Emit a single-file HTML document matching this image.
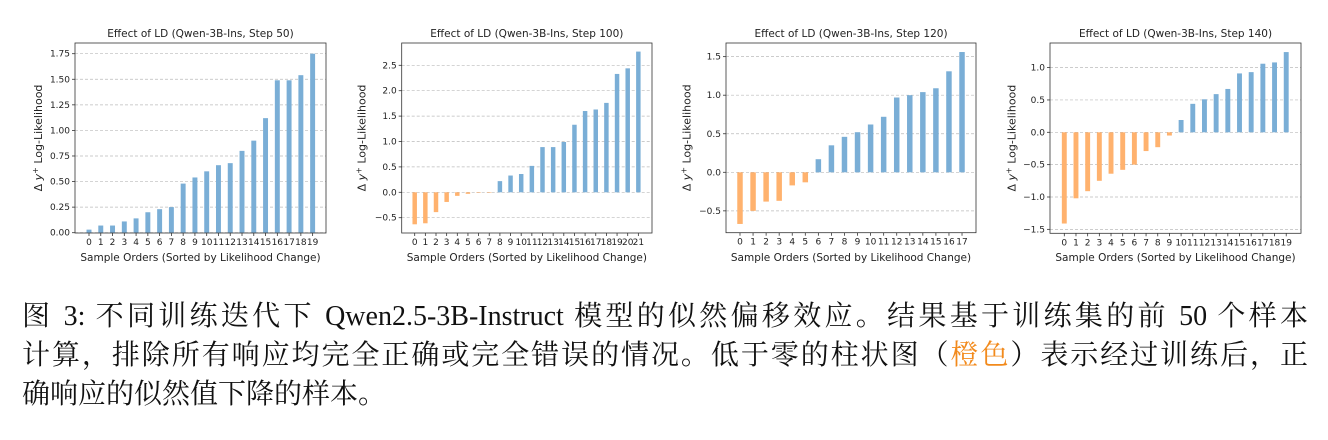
<!DOCTYPE html>
<html><head><meta charset="utf-8"><style>
body{margin:0;width:1328px;height:440px;background:#fff;overflow:hidden;position:relative}
svg{position:absolute;left:0;top:0}
.cap{position:absolute;left:22px;width:1286px;font-family:"Liberation Serif","Noto Serif CJK SC",serif;font-size:28px;line-height:38px;color:#111;white-space:nowrap}
.j{text-align:justify;text-align-last:justify}
</style></head><body>
<svg id="s" width="1328" height="290" xmlns="http://www.w3.org/2000/svg" font-family="DejaVu Sans, sans-serif"></svg>
<div class="cap j" style="top:298px">图 3: 不同训练迭代下 Qwen2.5-3B-Instruct 模型的似然偏移效应。结果基于训练集的前 50 个样本</div>
<div class="cap j" style="top:337px">计算，排除所有响应均完全正确或完全错误的情况。低于零的柱状图（<span style="color:#f28a1c">橙色</span>）表示经过训练后，正</div>
<div class="cap" style="top:376px">确响应的似然值下降的样本。</div>
<script>
const charts=[
{t:"Effect of LD (Qwen-3B-Ins, Step 50)",L:75,R:326,T:43,B:233,z:232.7,u:(232.7-53.7)/1.75,b0:89,sp:11.77,yl:38,
 v:[0.03,0.07,0.07,0.11,0.14,0.20,0.23,0.25,0.48,0.54,0.60,0.66,0.68,0.80,0.90,1.12,1.49,1.49,1.54,1.75],
 ticks:[0,0.25,0.5,0.75,1,1.25,1.5,1.75],fmt:x=>x.toFixed(2)},
{t:"Effect of LD (Qwen-3B-Ins, Step 100)",L:401.7,R:652,T:43,B:233,z:192.3,u:50.8,b0:414.7,sp:10.65,yl:361.7,
 v:[-0.63,-0.61,-0.39,-0.19,-0.07,-0.03,-0.01,-0.01,0.22,0.33,0.36,0.52,0.89,0.89,0.99,1.33,1.60,1.63,1.76,2.33,2.44,2.77],
 ticks:[-0.5,0,0.5,1,1.5,2,2.5],fmt:x=>x.toFixed(1).replace("-","\u2212")},
{t:"Effect of LD (Qwen-3B-Ins, Step 120)",L:726,R:976,T:43,B:232.7,z:172.3,u:77.1,b0:740,sp:13.06,yl:686.7,
 v:[-0.67,-0.50,-0.38,-0.37,-0.17,-0.13,0.17,0.35,0.46,0.52,0.62,0.72,0.97,1.00,1.04,1.09,1.31,1.56],
 ticks:[-0.5,0,0.5,1,1.5],fmt:x=>x.toFixed(1).replace("-","\u2212")},
{t:"Effect of LD (Qwen-3B-Ins, Step 140)",L:1050,R:1301,T:43,B:233.3,z:132.3,u:64.7,b0:1064.3,sp:11.68,yl:1011.7,
 v:[-1.41,-1.02,-0.91,-0.75,-0.64,-0.58,-0.50,-0.29,-0.23,-0.05,0.19,0.44,0.51,0.59,0.67,0.91,0.93,1.06,1.08,1.24],
 ticks:[-1.5,-1,-0.5,0,0.5,1],fmt:x=>x.toFixed(1).replace("-","\u2212")}
];
let h="";
for(const c of charts){
 for(const t of c.ticks){const y=c.z-t*c.u;
  h+=`<line x1="${c.L}" x2="${c.R}" y1="${y}" y2="${y}" stroke="#bbb" stroke-width="0.7" stroke-dasharray="3,2"/>`;
  h+=`<line x1="${c.L-3}" x2="${c.L}" y1="${y}" y2="${y}" stroke="#333" stroke-width="0.8"/>`;
  h+=`<text x="${c.L-5}" y="${y+3}" font-size="9" text-anchor="end" fill="#222">${c.fmt(t)}</text>`;}
 const w=c.sp*0.42;
 c.v.forEach((v,i)=>{const x=c.b0+i*c.sp;const y1=c.z-Math.max(v,0)*c.u,hh=Math.abs(v)*c.u;
  h+=`<rect x="${x-w/2}" y="${y1}" width="${w}" height="${Math.max(hh,0.5)}" fill="${v<0?'#ffb26e':'#7aaed6'}"/>`;
  h+=`<line x1="${x}" x2="${x}" y1="${c.B}" y2="${c.B+3}" stroke="#333" stroke-width="0.8"/>`;
  h+=`<text x="${x}" y="${c.B+12}" font-size="9" text-anchor="middle" fill="#222">${i}</text>`;});
 h+=`<rect x="${c.L}" y="${c.T}" width="${c.R-c.L}" height="${c.B-c.T}" fill="none" stroke="#333" stroke-width="0.8"/>`;
 const cx=(c.L+c.R)/2;
 h+=`<text x="${cx}" y="37" font-size="10.5" text-anchor="middle" fill="#222">${c.t}</text>`;
 h+=`<text x="${cx}" y="261" font-size="10.5" text-anchor="middle" fill="#222">Sample Orders (Sorted by Likelihood Change)</text>`;
 h+=`<text transform="translate(${c.yl+4},${(c.T+c.B)/2}) rotate(-90)" font-size="11" text-anchor="middle" fill="#222">Δ <tspan font-style="italic">y</tspan><tspan dy="-4" font-size="8">+</tspan><tspan dy="4"> Log-Likelihood</tspan></text>`;
}
document.getElementById("s").innerHTML=h;
</script>
</body></html>
